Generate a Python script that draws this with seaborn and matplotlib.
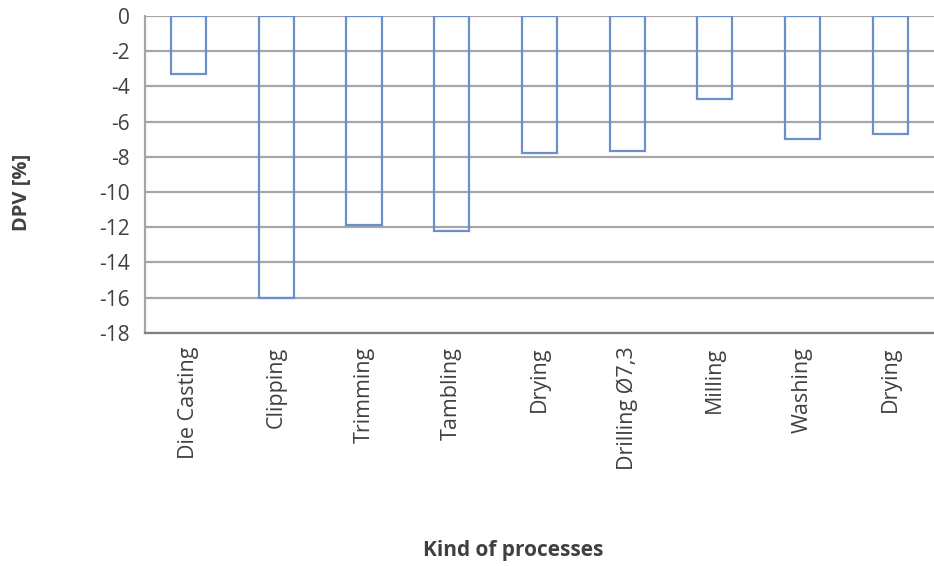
import matplotlib
matplotlib.use("Agg")
import matplotlib.pyplot as plt
import seaborn as sns
import pandas as pd

# =====================
# DATA
# =====================
processes = ["Die Casting", "Clipping", "Trimming", "Tambling", "Drying",
             "Drilling Ø7,3", "Milling", "Washing", "Drying"]
dpv = [-3.3, -16.0, -11.9, -12.2, -7.8, -7.7, -4.7, -7.0, -6.7]
y_ticks = list(range(0, -20, -2))

df = pd.DataFrame({"step": range(len(processes)), "dpv": dpv})

# =====================
# FIGURE
# =====================
sns.set_style("white")
plt.rcParams["font.family"] = ["Open Sans", "DejaVu Sans"]

fig = plt.figure(figsize=(9.34, 5.66), dpi=100)
ax = fig.add_axes([0.155, 0.412, 0.845, 0.56])

ax.set_axisbelow(True)
ax.grid(axis="y", color="#A6A6A6", linewidth=1.6)
sns.barplot(data=df, x="step", y="dpv", ax=ax, width=0.4, fill=False,
            color="#6A8FCB", linewidth=1.6, errorbar=None)

ax.set_ylim(-18, 0)
ax.set_yticks(y_ticks)
ax.set_yticklabels([str(t) for t in y_ticks], fontsize=15, color="#404040")
ax.set_xticks(range(len(processes)))
ax.set_xticklabels(processes, rotation=90, fontsize=15.5, color="#404040")
ax.set_xlim(-0.5, len(processes) - 0.5)

ax.tick_params(axis="y", length=5, color="#A6A6A6", pad=6)
ax.tick_params(axis="x", length=0, pad=10)
for side in ["top", "right"]:
    ax.spines[side].set_visible(False)
ax.spines["left"].set_color("#A6A6A6")
ax.spines["left"].set_linewidth(1.6)
ax.spines["bottom"].set_color("#7F7F7F")
ax.spines["bottom"].set_linewidth(1.6)

ax.set_ylabel("")
ax.set_xlabel("")
fig.text(0.024, 0.66, "DPV [%]", rotation=90, ha="center", va="center",
         fontsize=14.5, fontweight="bold", color="#404040")
fig.text(0.549, 0.027, "Kind of processes", ha="center", va="center",
         fontsize=15, fontweight="bold", color="#404040")

plt.savefig("out.png", dpi=100)
